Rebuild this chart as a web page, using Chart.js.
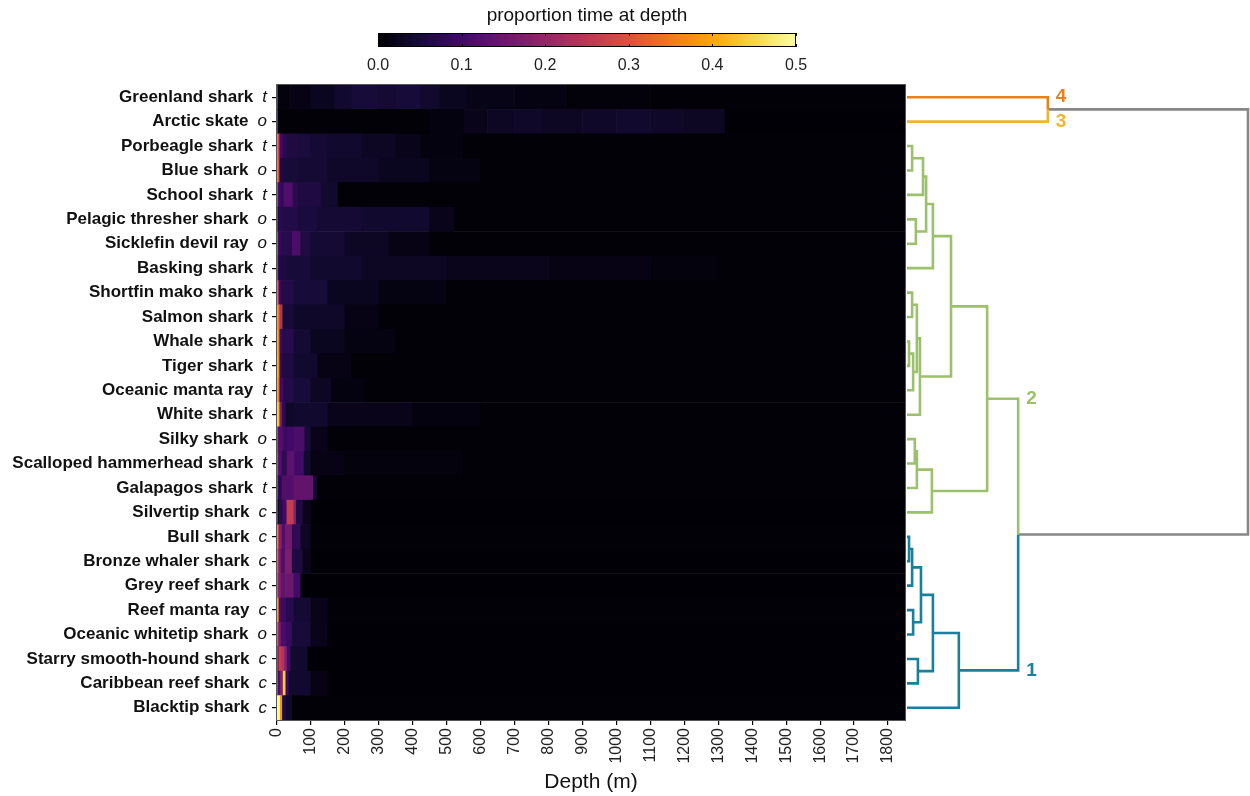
<!DOCTYPE html>
<html>
<head>
<meta charset="utf-8">
<title>Time at depth</title>
<script src="https://cdn.jsdelivr.net/npm/chart.js@4.4.1/dist/chart.umd.min.js"></script>
<style>
  body { margin: 0; background: #fff; }
  #wrap { position: relative; width: 1250px; height: 796px; }
  canvas { position: absolute; top: 0; }
  #heat { left: 0; }
  #dendro { left: 905px; }
  #scale { left: 340px; }
</style>
</head>
<body>
<div id="wrap">
  <canvas id="heat" width="912" height="796"></canvas>
  <canvas id="dendro" width="345" height="796"></canvas>
  <canvas id="scale" width="500" height="84"></canvas>
</div>
<script>
const species = ['Greenland shark', 'Arctic skate', 'Porbeagle shark', 'Blue shark', 'School shark',
  'Pelagic thresher shark', 'Sicklefin devil ray', 'Basking shark', 'Shortfin mako shark', 'Salmon shark',
  'Whale shark', 'Tiger shark', 'Oceanic manta ray', 'White shark', 'Silky shark',
  'Scalloped hammerhead shark', 'Galapagos shark', 'Silvertip shark', 'Bull shark', 'Bronze whaler shark',
  'Grey reef shark', 'Reef manta ray', 'Oceanic whitetip shark', 'Starry smooth-hound shark',
  'Caribbean reef shark', 'Blacktip shark'];

// t = tropical/temperate, o = oceanic, c = coastal
const habitat = ['t', 'o', 't', 'o', 't', 'o', 'o', 't', 't', 't', 't', 't', 't', 't', 'o', 't', 't',
  'c', 'c', 'c', 'c', 'c', 'o', 'c', 'c', 'c'];

const clusterOf = [4, 3, 2, 2, 2, 2, 2, 2, 2, 2, 2, 2, 2, 2, 2, 2, 2, 2, 1, 1, 1, 1, 1, 1, 1, 1];

const depthMax = 1850;
const colorMax = 0.5;
const colorTicks = [0, 0.1, 0.2, 0.3, 0.4, 0.5];

// depth bands per species: [from m, to m, proportion of time]
const depthProfiles = [
  [[0, 40, 0.008], [40, 100, 0.015], [100, 170, 0.025], [170, 220, 0.04], [220, 300, 0.05], [300, 350, 0.045],
   [350, 420, 0.05], [420, 480, 0.04], [480, 560, 0.025], [560, 700, 0.018], [700, 850, 0.012],
   [850, 1100, 0.007], [1100, 1850, 0.004]],
  [[0, 450, 0.003], [450, 550, 0.01], [550, 620, 0.02], [620, 700, 0.03], [700, 780, 0.035], [780, 900, 0.03],
   [900, 1000, 0.035], [1000, 1100, 0.04], [1100, 1200, 0.035], [1200, 1320, 0.03], [1320, 1850, 0.002]],
  [[0, 8, 0.28], [8, 18, 0.1], [18, 30, 0.07], [30, 60, 0.06], [60, 100, 0.055], [100, 150, 0.045],
   [150, 250, 0.04], [250, 350, 0.03], [350, 420, 0.02], [420, 550, 0.01], [550, 1850, 0.003]],
  [[0, 8, 0.3], [8, 20, 0.06], [20, 60, 0.05], [60, 150, 0.045], [150, 300, 0.035], [300, 450, 0.025],
   [450, 600, 0.012], [600, 1850, 0.003]],
  [[0, 5, 0.13], [5, 12, 0.1], [12, 20, 0.08], [20, 47, 0.115], [47, 60, 0.07], [60, 130, 0.06],
   [130, 180, 0.04], [180, 1850, 0.003]],
  [[0, 5, 0.05], [5, 20, 0.07], [20, 60, 0.065], [60, 120, 0.055], [120, 250, 0.045], [250, 450, 0.04],
   [450, 520, 0.02], [520, 1850, 0.003]],
  [[0, 5, 0.15], [5, 15, 0.08], [15, 45, 0.07], [45, 70, 0.11], [70, 100, 0.06], [100, 200, 0.045],
   [200, 330, 0.03], [330, 450, 0.015], [450, 1850, 0.003]],
  [[0, 5, 0.12], [5, 30, 0.06], [30, 100, 0.05], [100, 250, 0.04], [250, 500, 0.03], [500, 800, 0.022],
   [800, 1100, 0.015], [1100, 1300, 0.008], [1300, 1850, 0.003]],
  [[0, 6, 0.26], [6, 12, 0.1], [12, 50, 0.065], [50, 150, 0.05], [150, 300, 0.025], [300, 500, 0.012],
   [500, 1850, 0.003]],
  [[0, 8, 0.35], [8, 17, 0.24], [17, 50, 0.05], [50, 200, 0.035], [200, 300, 0.015], [300, 1850, 0.003]],
  [[0, 8, 0.37], [8, 15, 0.1], [15, 50, 0.07], [50, 100, 0.045], [100, 200, 0.025], [200, 350, 0.012],
   [350, 1850, 0.003]],
  [[0, 8, 0.38], [8, 15, 0.09], [15, 50, 0.06], [50, 120, 0.04], [120, 220, 0.015], [220, 1850, 0.003]],
  [[0, 8, 0.36], [8, 20, 0.1], [20, 50, 0.065], [50, 100, 0.05], [100, 160, 0.03], [160, 260, 0.01],
   [260, 1850, 0.003]],
  [[0, 8, 0.43], [8, 15, 0.18], [15, 25, 0.08], [25, 50, 0.035], [50, 150, 0.04], [150, 400, 0.02],
   [400, 600, 0.01], [600, 1850, 0.003]],
  [[0, 5, 0.14], [5, 20, 0.12], [20, 30, 0.09], [30, 50, 0.1], [50, 82, 0.11], [82, 100, 0.05],
   [100, 150, 0.02], [150, 1850, 0.004]],
  [[0, 5, 0.16], [5, 15, 0.12], [15, 30, 0.08], [30, 52, 0.13], [52, 80, 0.1], [80, 100, 0.04],
   [100, 200, 0.015], [200, 550, 0.008], [550, 1850, 0.003]],
  [[0, 5, 0.1], [5, 15, 0.07], [15, 50, 0.12], [50, 107, 0.14], [107, 120, 0.04], [120, 1850, 0.003]],
  [[0, 7, 0.03], [7, 17, 0.07], [17, 29, 0.1], [29, 50, 0.26], [50, 57, 0.18], [57, 77, 0.06],
   [77, 100, 0.02], [100, 1850, 0.002]],
  [[0, 6, 0.3], [6, 15, 0.18], [15, 25, 0.12], [25, 45, 0.16], [45, 70, 0.08], [70, 100, 0.03],
   [100, 1850, 0.003]],
  [[0, 6, 0.24], [6, 12, 0.18], [12, 25, 0.12], [25, 45, 0.17], [45, 75, 0.06], [75, 100, 0.02],
   [100, 1850, 0.002]],
  [[0, 6, 0.2], [6, 12, 0.18], [12, 25, 0.14], [25, 50, 0.15], [50, 70, 0.1], [70, 1850, 0.002]],
  [[0, 6, 0.36], [6, 12, 0.12], [12, 25, 0.09], [25, 50, 0.07], [50, 100, 0.045], [100, 150, 0.02],
   [150, 1850, 0.004]],
  [[0, 6, 0.22], [6, 12, 0.17], [12, 25, 0.11], [25, 45, 0.09], [45, 100, 0.05], [100, 150, 0.02],
   [150, 1850, 0.002]],
  [[0, 5, 0.1], [5, 15, 0.26], [15, 22, 0.24], [22, 30, 0.18], [30, 40, 0.1], [40, 90, 0.04],
   [90, 1850, 0.002]],
  [[0, 10, 0.11], [10, 18, 0.17], [18, 26, 0.44], [26, 35, 0.09], [35, 100, 0.04], [100, 150, 0.015],
   [150, 1850, 0.002]],
  [[0, 10, 0.49], [10, 16, 0.38], [16, 25, 0.06], [25, 45, 0.035], [45, 1850, 0.003]]
];

// hierarchical clustering: [node a, node b, height]; merge k creates node 26 + k
const merges = [
  [10, 11, 0.6], [18, 19, 0.6], [2, 3, 1.5], [8, 9, 1.5], [27, 20, 1.5],
  [26, 12, 1.8], [21, 22, 1.8], [14, 15, 2.3], [5, 6, 2.6], [33, 16, 2.9],
  [29, 31, 2.9], [23, 24, 3.2], [36, 13, 3.8], [30, 32, 4.1], [28, 4, 4.7],
  [40, 34, 5.6], [35, 17, 7.3], [41, 7, 7.6], [39, 37, 7.6], [44, 25, 15.2],
  [43, 38, 12.9], [46, 42, 23.5], [47, 45, 32.6], [0, 1, 41.3], [49, 48, 100]
];

const clusterColors = { 0: '#878787', 1: '#17809c', 2: '#9bc16c', 3: '#f1b42f', 4: '#e8801c' };

const FONT = "'Liberation Sans', Arial, sans-serif";
Chart.defaults.font.family = FONT;
Chart.defaults.color = '#1a1a1a';

// inferno colour ramp
const inferno = ['#000004', '#160b39', '#420a68', '#6a176e', '#932667', '#bc3754',
  '#dd513a', '#f37819', '#fca50a', '#f6d746', '#fcffa4'];

function hexRgb(h) {
  return [1, 3, 5].map(i => parseInt(h.slice(i, i + 2), 16));
}

function infernoColor(t) {
  t = Math.max(0, Math.min(1, t));
  const s = t * (inferno.length - 1);
  const i = Math.min(Math.floor(s), inferno.length - 2);
  const f = s - i;
  const a = hexRgb(inferno[i]), b = hexRgb(inferno[i + 1]);
  const c = a.map((v, k) => Math.round(v + (b[k] - v) * f));
  return `rgb(${c[0]},${c[1]},${c[2]})`;
}

// ---- heatmap ----
const heatPoints = [];
const heatColors = [];
depthProfiles.forEach((bands, r) => {
  bands.forEach(([from, to, p]) => {
    heatPoints.push({ x: [from, to], y: species[r] });
    heatColors.push(infernoColor(p / colorMax));
  });
});

const rowLabels = {
  id: 'rowLabels',
  afterDraw(chart) {
    const { ctx, chartArea, scales: { y } } = chart;
    const right = chartArea.left - 10;
    ctx.save();
    ctx.textAlign = 'right';
    ctx.textBaseline = 'middle';
    ctx.fillStyle = '#111';
    species.forEach((name, i) => {
      const py = y.getPixelForValue(i);
      ctx.font = `italic 17px ${FONT}`;
      const w = ctx.measureText(habitat[i]).width;
      ctx.fillText(habitat[i], right, py);
      ctx.font = `bold 17px ${FONT}`;
      ctx.fillText(name, right - w - 9, py);
    });
    ctx.restore();
  }
};

const frame = {
  id: 'frame',
  afterDatasetsDraw(chart) {
    const { ctx, chartArea: a } = chart;
    ctx.save();
    ctx.strokeStyle = '#555';
    ctx.lineWidth = 1;
    ctx.strokeRect(a.left - 0.5, a.top - 0.5, a.right - a.left + 1, a.bottom - a.top + 1);
    ctx.restore();
  }
};

new Chart(document.getElementById('heat'), {
  type: 'bar',
  data: {
    labels: species,
    datasets: [{
      data: heatPoints,
      backgroundColor: heatColors,
      borderWidth: 0,
      barPercentage: 1,
      categoryPercentage: 1
    }]
  },
  options: {
    indexAxis: 'y',
    responsive: false,
    animation: false,
    layout: { padding: { top: 85, right: 7, left: 0, bottom: 0 } },
    plugins: { legend: { display: false }, tooltip: { enabled: false } },
    scales: {
      x: {
        type: 'linear',
        position: 'bottom',
        min: 0,
        max: depthMax,
        grid: { drawOnChartArea: false, tickLength: 5, tickColor: '#000', lineWidth: 1.2 },
        border: { display: false },
        ticks: {
          stepSize: 100, includeBounds: false, minRotation: 90, maxRotation: 90,
          padding: 3, color: '#222', font: { size: 16 }, callback: v => String(v)
        },
        title: { display: true, text: 'Depth (m)', color: '#111', font: { size: 21 }, padding: { top: 2, bottom: 1 } },
        afterFit(s) { s.height = 76; }
      },
      y: {
        type: 'category',
        labels: species,
        offset: true,
        grid: { offset: false, drawOnChartArea: false, tickLength: 5, tickColor: '#000', lineWidth: 1.2 },
        border: { display: false },
        ticks: { callback: () => '' },
        afterFit(s) { s.width = 277; }
      }
    }
  },
  plugins: [rowLabels, frame]
});

// ---- colour scale ----
const colorBar = {
  id: 'colorBar',
  beforeDatasetsDraw(chart) {
    const { ctx, chartArea: a, scales: { x } } = chart;
    ctx.save();
    const g = ctx.createLinearGradient(a.left, 0, a.right, 0);
    inferno.forEach((c, i) => g.addColorStop(i / (inferno.length - 1), c));
    ctx.fillStyle = g;
    ctx.fillRect(a.left, a.top, a.right - a.left, a.bottom - a.top);
    ctx.strokeStyle = '#000';
    ctx.lineWidth = 1;
    ctx.strokeRect(a.left + 0.5, a.top + 0.5, a.right - a.left - 1, a.bottom - a.top - 1);
    colorTicks.forEach(v => {
      const px = Math.round(x.getPixelForValue(v)) + 0.5;
      ctx.beginPath();
      ctx.moveTo(px, a.top); ctx.lineTo(px, a.top + 3);
      ctx.moveTo(px, a.bottom); ctx.lineTo(px, a.bottom - 3);
      ctx.stroke();
    });
    ctx.restore();
  }
};

new Chart(document.getElementById('scale'), {
  type: 'scatter',
  data: { datasets: [] },
  options: {
    responsive: false,
    animation: false,
    layout: { padding: { left: 38, right: 44, top: 0, bottom: 0 } },
    plugins: {
      legend: { display: false },
      tooltip: { enabled: false },
      title: {
        display: true, text: 'proportion time at depth', color: '#111',
        font: { size: 19, weight: 'normal' }, padding: { top: 4.6, bottom: 5.6 }
      }
    },
    scales: {
      x: {
        type: 'linear', min: 0, max: colorMax,
        grid: { display: false }, border: { display: false },
        ticks: { stepSize: 0.1, padding: 1, color: '#222', font: { size: 16 }, callback: v => v.toFixed(1) },
        afterFit(s) { s.height = 37; }
      },
      y: { display: false, min: 0, max: 1 }
    }
  },
  plugins: [colorBar]
});

// ---- dendrogram ----
const nLeaves = species.length;
const nodeY = species.map((_, i) => i);
const nodeH = species.map(() => 0);
const nodeC = clusterOf.slice();
merges.forEach(([a, b, h]) => {
  nodeY.push((nodeY[a] + nodeY[b]) / 2);
  nodeH.push(h);
  nodeC.push(nodeC[a] === nodeC[b] ? nodeC[a] : 0);
});

const branchSets = [];
const clusterTags = [];
function addBranch(points, cluster) {
  branchSets.push({
    data: points,
    showLine: true,
    borderColor: clusterColors[cluster],
    borderWidth: 2.6,
    pointRadius: 0,
    tension: 0,
    clip: false,
    borderJoinStyle: 'miter'
  });
}
merges.forEach(([a, b, h], k) => {
  const id = nLeaves + k;
  const ya = nodeY[a], yb = nodeY[b], ym = nodeY[id];
  if (nodeC[id]) {
    addBranch([{ x: nodeH[a], y: ya }, { x: h, y: ya }, { x: h, y: yb }, { x: nodeH[b], y: yb }], nodeC[id]);
  } else {
    addBranch([{ x: nodeH[a], y: ya }, { x: h, y: ya }, { x: h, y: ym }], nodeC[a]);
    addBranch([{ x: h, y: ym }, { x: h, y: yb }, { x: nodeH[b], y: yb }], nodeC[b]);
    [a, b].forEach(c => { if (nodeC[c]) clusterTags.push({ cluster: nodeC[c], x: h, y: nodeY[c] }); });
  }
});

const clusterLabels = {
  id: 'clusterLabels',
  afterDraw(chart) {
    const { ctx, scales: { x, y } } = chart;
    ctx.save();
    ctx.font = `bold 19px ${FONT}`;
    ctx.textAlign = 'left';
    ctx.textBaseline = 'middle';
    clusterTags.forEach(t => {
      ctx.fillStyle = clusterColors[t.cluster];
      ctx.fillText(String(t.cluster), x.getPixelForValue(t.x) + 8, y.getPixelForValue(t.y));
    });
    ctx.restore();
  }
};

new Chart(document.getElementById('dendro'), {
  type: 'scatter',
  data: { datasets: branchSets },
  options: {
    responsive: false,
    animation: false,
    layout: { padding: { left: 2, right: 2, top: 85, bottom: 76 } },
    plugins: { legend: { display: false }, tooltip: { enabled: false } },
    scales: {
      x: { type: 'linear', min: 0, max: 100, display: false },
      y: { type: 'linear', min: -0.5, max: nLeaves - 0.5, reverse: true, display: false }
    }
  },
  plugins: [clusterLabels]
});
</script>
</body>
</html>
